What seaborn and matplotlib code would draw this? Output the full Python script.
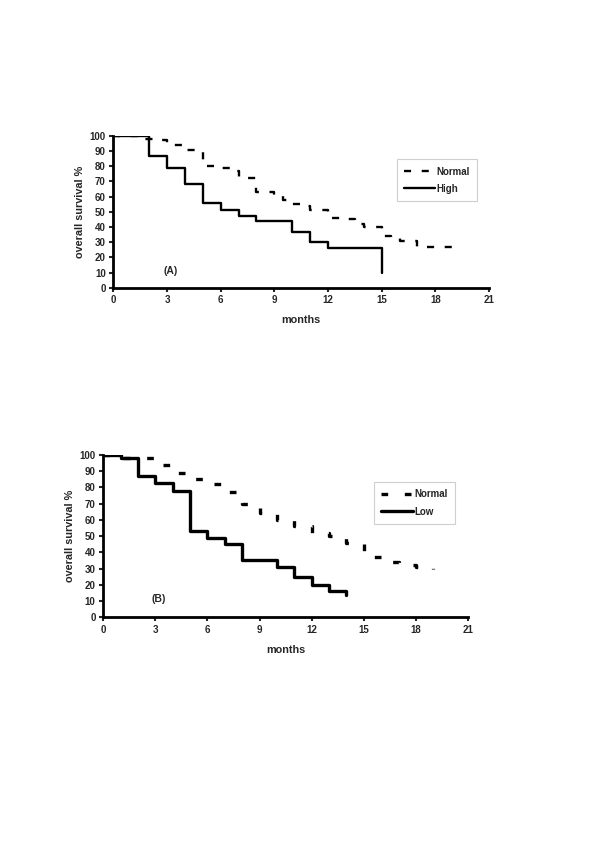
import pandas as pd
import numpy as np
import seaborn as sns
import matplotlib.pyplot as plt
from matplotlib.lines import Line2D

# panel A: Normal vs High
a_normal_t = [0, 1.5, 2.5, 3, 4, 5, 6, 6.5, 7, 8, 9, 9.5, 10, 10.5, 11, 12, 13, 13.5, 14, 15, 15.5, 16, 17, 19.2]
a_normal_v = [100, 98, 97, 94, 91, 80, 79, 77, 72, 63, 61, 58, 55, 54, 51, 46, 45, 42, 40, 34, 33, 31, 27, 26]
a_high_t = [0, 2, 3, 4, 5, 6, 7, 8, 10, 11, 12, 15]
a_high_v = [100, 87, 79, 68, 56, 51, 47, 44, 37, 30, 26, 10]

# panel B: Normal vs Low
b_normal_t = [0, 1, 3, 4, 5, 6, 7, 8, 9, 10, 11, 12, 13, 14, 15, 16, 17, 18, 19]
b_normal_v = [100, 98, 94, 89, 85, 82, 77, 70, 64, 60, 56, 52, 50, 46, 37, 34, 32, 31, 30]
b_low_t = [0, 1, 2, 3, 4, 5, 6, 7, 8, 10, 11, 12, 13, 14]
b_low_v = [100, 98, 87, 83, 78, 53, 49, 45, 35, 31, 25, 20, 16, 14]

x_ticks = [0, 3, 6, 9, 12, 15, 18, 21]
y_ticks = list(range(0, 101, 10))

sns.set_style('white')
plt.rcParams['font.family'] = ['Liberation Sans', 'DejaVu Sans']
plt.rcParams['font.weight'] = 'bold'

fig = plt.figure(figsize=(6, 8.49), dpi=100)
axA = fig.add_axes([0.189, 0.661, 0.626, 0.179])
axB = fig.add_axes([0.172, 0.273, 0.608, 0.191])


def panel(ax, nt, nv, ot, ov, other, tag, lw, dash, leg_box):
    sns.lineplot(x=nt, y=nv, ax=ax, color='black', lw=lw, estimator=None,
                 drawstyle='steps-post', linestyle=(0, dash))
    sns.lineplot(x=ot, y=ov, ax=ax, color='black', lw=lw, estimator=None,
                 drawstyle='steps-post')
    ax.set_xlim(0, 21)
    ax.set_ylim(0, 100)
    ax.set_xticks(x_ticks)
    ax.set_yticks(y_ticks)
    ax.tick_params(labelsize=7, width=1.5, length=3, direction='out',
                   bottom=True, left=True, pad=2.5)
    for s in ['top', 'right']:
        ax.spines[s].set_visible(False)
    for s in ['left', 'bottom']:
        ax.spines[s].set_linewidth(2)
        ax.spines[s].set_color('black')
    ax.set_xlabel('months', fontsize=7.8, fontweight='bold', labelpad=7)
    ax.set_ylabel('overall survival %', fontsize=7.8, fontweight='bold', labelpad=3)
    ax.text(3.2, 11, tag, fontsize=7.5, fontweight='bold', ha='center', va='center')
    handles = [Line2D([], [], color='black', lw=lw, linestyle=(0, dash)),
               Line2D([], [], color='black', lw=lw)]
    leg = ax.legend(handles, ['Normal', other], loc='center',
                    bbox_to_anchor=leg_box, fontsize=7, frameon=True,
                    fancybox=False, handlelength=3.2, handletextpad=0.15,
                    borderpad=0.75, labelspacing=0.75)
    leg.get_frame().set_edgecolor('#c4c4c4')
    leg.get_frame().set_linewidth(0.8)


panel(axA, a_normal_t, a_normal_v, a_high_t, a_high_v, 'High', '(A)', 1.7, (3, 4.5),
      (0.861, 0.708))
panel(axB, b_normal_t, b_normal_v, b_low_t, b_low_v, 'Low', '(B)', 2.4, (2, 5),
      (0.853, 0.705))

fig.savefig('out.png', dpi=100)
